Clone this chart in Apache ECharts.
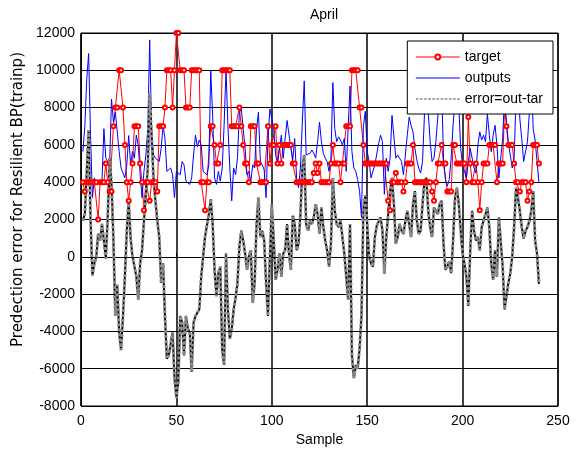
<!DOCTYPE html>
<html>
<head>
<meta charset="utf-8">
<script src="https://cdn.jsdelivr.net/npm/echarts@6/dist/echarts.min.js"></script>
<style>
    html, body { margin: 0; padding: 0; background: #fff; }
    #chart { width: 576px; height: 452px; }
</style>
</head>
<body>
<div id="chart"></div>
<script>
    // target values, samples 1..240
    const target = [
        4000, 3500, 4000, 4000, 4000, 4000, 4000, 4000, 2000, 4000,
        4000, 4000, 5000, 4000, 3500, 3500, 7000, 8000, 8000, 10000,
        10000, 8000, 6000, 4000, 3000, 4000, 5000, 7000, 7000, 7000,
        5000, 4000, 2500, 4000, 4000, 3000, 4000, 4000, 4000, 3500,
        7000, 7000, 7000, 8000, 10000, 10000, 10000, 8000, 10000, 12000,
        12000, 10000, 10000, 10000, 8000, 8000, 8000, 10000, 10000, 10000,
        10000, 10000, 4000, 4000, 2500, 4000, 4000, 7000, 7000, 6000,
        5000, 5000, 6000, 10000, 10000, 10000, 10000, 10000, 7000, 7000,
        7000, 7000, 8000, 7000, 6000, 5000, 5000, 4000, 7000, 7000,
        7000, 5000, 5000, 4000, 4000, 4000, 4000, 7000, 5000, 6000,
        6000, 7000, 5000, 6000, 5000, 6000, 6000, 6000, 6000, 6000,
        5000, 5000, 4000, 4000, 4000, 4000, 4000, 4000, 4000, 4000,
        4000, 4500, 5000, 4500, 5000, 4000, 4000, 4000, 4000, 4000,
        5000, 6000, 5000, 5000, 5000, 4000, 5000, 5000, 7000, 7000,
        7000, 10000, 10000, 10000, 10000, 8000, 8000, 6000, 5000, 5000,
        5000, 5000, 5000, 5000, 5000, 5000, 5000, 5000, 5000, 5000,
        3000, 2500, 4000, 4000, 4500, 4000, 4000, 4000, 3500, 4000,
        5000, 5000, 5000, 6000, 4000, 4000, 4000, 4000, 4000, 4000,
        4000, 4000, 4000, 3500, 3000, 4000, 5000, 5000, 6000, 5000,
        5000, 3500, 3500, 3500, 6000, 6000, 5000, 5000, 5000, 5000,
        5000, 4000, 7500, 5000, 4000, 4000, 5000, 4000, 2500, 4000,
        5000, 5000, 5000, 6000, 6000, 6000, 6000, 4000, 5000, 5000,
        5000, 8000, 7000, 6000, 6000, 6000, 5000, 4000, 4000, 3500,
        4000, 4000, 4000, 3000, 3500, 4000, 6000, 6000, 6000, 5000
    ];

    // network outputs
    const outputs = [
        5640, 7000, 9500, 10900, 6500, 3170, 4230, 3880, 4050, 4050,
        4050, 6870, 5290, 5290, 4930, 8460, 7220, 7750, 6700, 5640,
        4760, 4760, 4230, 4930, 6500, 4930, 5640, 5290, 6520, 5990,
        4400, 3170, 4580, 5460, 6870, 11630, 6700, 5460, 5290, 5290,
        5110, 5810, 7050, 6340, 4580, 4670, 4760, 4400, 3170, 4580,
        4670, 4400, 5110, 4930, 4050, 4050, 3880, 4230, 5460, 6520,
        5900, 6260, 5990, 4580, 4490, 4400, 4930, 10000, 7580, 4230,
        3880, 4580, 4050, 4760, 7050, 10040, 7050, 4760, 3000, 4760,
        4400, 5290, 7750, 7930, 6870, 5810, 4400, 4580, 4050, 4930,
        4760, 6870, 7750, 5110, 4930, 4670, 3170, 6340, 7930, 8020,
        6870, 5460, 5020, 5110, 6520, 5290, 6340, 7310, 7220, 5810,
        5200, 6340, 4230, 3700, 4760, 7220, 9430, 5460, 5550, 5550,
        5730, 5550, 5290, 6170, 7220, 6170, 5550, 5290, 5110, 4580,
        5290, 9340, 6870, 6170, 6430, 6260, 5990, 6340, 4580, 6870,
        9160, 5640, 4760, 4580, 4140, 3520, 2110, 7000, 7800, 5640,
        5110, 4230, 4230, 4930, 4930, 6080, 6520, 6170, 3350, 5290,
        4580, 5290, 7580, 7580, 5290, 5460, 5460, 5110, 4400, 5460,
        6520, 7490, 7050, 6700, 5810, 5200, 4760, 4490, 5110, 7600,
        8400, 7750, 6170, 5110, 5290, 6170, 7490, 8460, 9160, 5290,
        4140, 3790, 4140, 5290, 7050, 8280, 9160, 8100, 5810, 4850,
        4580, 4230, 5110, 5810, 5290, 4760, 4490, 5990, 6700, 6260,
        6520, 6170, 7660, 6520, 5640, 6520, 7050, 5990, 4230, 5290,
        6340, 8630, 7220, 6080, 5460, 4760, 5290, 8500, 9500, 7400,
        6340, 5110, 5110, 6170, 7750, 9800, 6870, 6260, 6260, 4000
    ];

    // error = out - tar
    const errorValues = [
        1940, 2290, 4500, 6800, 2000, -1000, -350, 0, 1230, 880,
        1760, 880, -90, 2100, 5300, 3900, 880, -3170, -1500, -4050,
        -5000, -3170, -1060, 1400, 3000, 1000, 0, -530, -1060, -2290,
        -350, 350, 1940, 3350, 4750, 8800, 6500, 4200, 3000, 1940,
        1060, -1400, -350, -3170, -5460, -5290, -5290, -4050, -6500, -7570,
        -6700, -3170, -3520, -5290, -3170, -3870, -4050, -6170, -3520, -3170,
        -3170, -2820, -1060, 0, 1060, 1060, 2290, 3080, 1760, -700,
        -2110, -880, -530, -5000, -5800, 180, -2820, -4400, -3870, -2820,
        -2200, -1400, 530, 1400, 880, 180, -700, 0, 350, -2460,
        -1400, 1760, 3170, 1060, 1400, 880, -1400, -3170, 0, 2800,
        880, -1230, -700, 180, -1060, 180, 350, 1760, 180, -700,
        2200, 1760, 350, 700, 2290, 4760, 5460, 1760, 1400, 1940,
        1760, 2110, 2820, 2290, 1230, 2640, 1590, 880, 350, -530,
        700, 4230, 2460, 1760, 1590, 1940, 1060, 180, -1060, -2290,
        1760, -5290, -6500, -5810, -6000, -4930, -3170, 2500, 3300, 1800,
        0, -350, -530, 1060, 1670, 1760, 2110, 1400, -900, 1060,
        2290, 3520, 4230, 2820, 700, 1060, 1760, 1400, 1230, 1940,
        2460, 1760, 1060, 2820, 3520, 1940, 1230, 1400, 2820, 4050,
        4230, 2460, 1590, 1060, 2640, 2640, 2290, 2820, 3000, 700,
        -700, -530, -260, -880, 880, 3170, 3700, 2820, 1400, 180,
        -350, -1060, -2640, 350, 2460, 1400, 880, 1060, 350, 1590,
        1590, 2290, 2640, 1590, -350, -1230, 350, -1060, 2110, 2110,
        -530, -2820, -2110, -1400, -880, 0, 1590, 3700, 3170, 2460,
        1590, 970, 1400, 1590, 1940, 2460, 3520, 880, 180, -1450
    ];

    const xTicks = { min: 0, max: 250, step: 50 };
    const yTicks = { min: -8000, max: 12000, step: 2000 };

    const font = "Liberation Sans";

    // [sample, value] pairs
    const pairs = (values) => values.map((v, i) => [i + 1, v]);

    // legend samples: plain line, dashed line
    const lineIcon = "path://M0,0H44V1.2H0Z";
    let dashIcon = "path://";
    for (let i = 0; i < 44; i += 4) dashIcon += "M" + i + ",0h2.6v1.6h-2.6Z";

    const chart = echarts.init(document.getElementById("chart"), null, { renderer: "canvas" });

    const option = {
        backgroundColor: "#fff",
        animation: false,
        title: {
            text: "April",
            left: 319,
            top: 3,
            textAlign: "center",
            textStyle: { fontFamily: font, fontSize: 14, fontWeight: "normal", color: "#000" }
        },
        legend: {
            orient: "vertical",
            right: 23,
            top: 41,
            z: 10,
            data: [
                { name: "target" },
                { name: "outputs", icon: lineIcon },
                { name: "error=out-tar", icon: dashIcon }
            ],
            backgroundColor: "#fff",
            borderColor: "#000",
            borderWidth: 1,
            borderRadius: 0,
            padding: [9, 10, 8, 8],
            itemGap: 7,
            itemWidth: 44,
            itemHeight: 6,
            lineStyle: { width: 1 },
            textStyle: { fontFamily: font, fontSize: 14, color: "#000" }
        },
        grid: {
            left: 81,
            right: 18,
            top: 33,
            bottom: 41,
            show: true,
            borderColor: "#000",
            borderWidth: 1
        },
        xAxis: {
            type: "value",
            min: xTicks.min,
            max: xTicks.max,
            interval: xTicks.step,
            name: "Sample",
            nameLocation: "middle",
            nameGap: 27,
            nameTextStyle: { fontFamily: font, fontSize: 14, color: "#000" },
            axisLine: { show: true, lineStyle: { color: "#000", width: 1 } },
            axisTick: { show: true, inside: true, length: 4, lineStyle: { color: "#000" } },
            axisLabel: { fontFamily: font, fontSize: 14, color: "#000", margin: 8 },
            splitLine: { show: true, lineStyle: { color: "#000", width: 1.5 } }
        },
        yAxis: {
            type: "value",
            min: yTicks.min,
            max: yTicks.max,
            interval: yTicks.step,
            name: "Predection error for Resilient BP(trainp)",
            nameLocation: "middle",
            nameGap: 55,
            nameTextStyle: {
                fontFamily: "DejaVu Sans", fontSize: 15, color: "#000",
                padding: [0, 0, 0, 40]
            },
            axisLine: { show: true, lineStyle: { color: "#000", width: 1 } },
            axisTick: { show: true, inside: true, length: 4, lineStyle: { color: "#000" } },
            axisLabel: {
                fontFamily: font, fontSize: 14, color: "#000", margin: 6,
                formatter: (v) => String(v)
            },
            splitLine: { show: true, lineStyle: { color: "#000", width: 1 } }
        },
        series: [
            {
                name: "target",
                type: "line",
                data: pairs(target),
                symbol: "emptyCircle",
                symbolSize: 4,
                showAllSymbol: true,
                itemStyle: { color: "#ff0000", borderWidth: 1 },
                lineStyle: { color: "#ff0000", width: 1 }
            },
            {
                name: "outputs",
                type: "line",
                data: pairs(outputs),
                symbol: "none",
                itemStyle: { color: "#0000ff" },
                lineStyle: { color: "#0000ff", width: 1 }
            },
            {
                name: "error-base",
                type: "line",
                data: pairs(errorValues),
                symbol: "none",
                silent: true,
                itemStyle: { color: "#000" },
                lineStyle: { color: "#000", width: 2 }
            },
            {
                name: "error=out-tar",
                type: "line",
                data: pairs(errorValues),
                symbol: "none",
                itemStyle: { color: "#8a8a8a" },
                lineStyle: { color: "#8a8a8a", width: 3, type: [3, 2] }
            }
        ]
    };

    chart.setOption(option);
</script>
</body>
</html>
